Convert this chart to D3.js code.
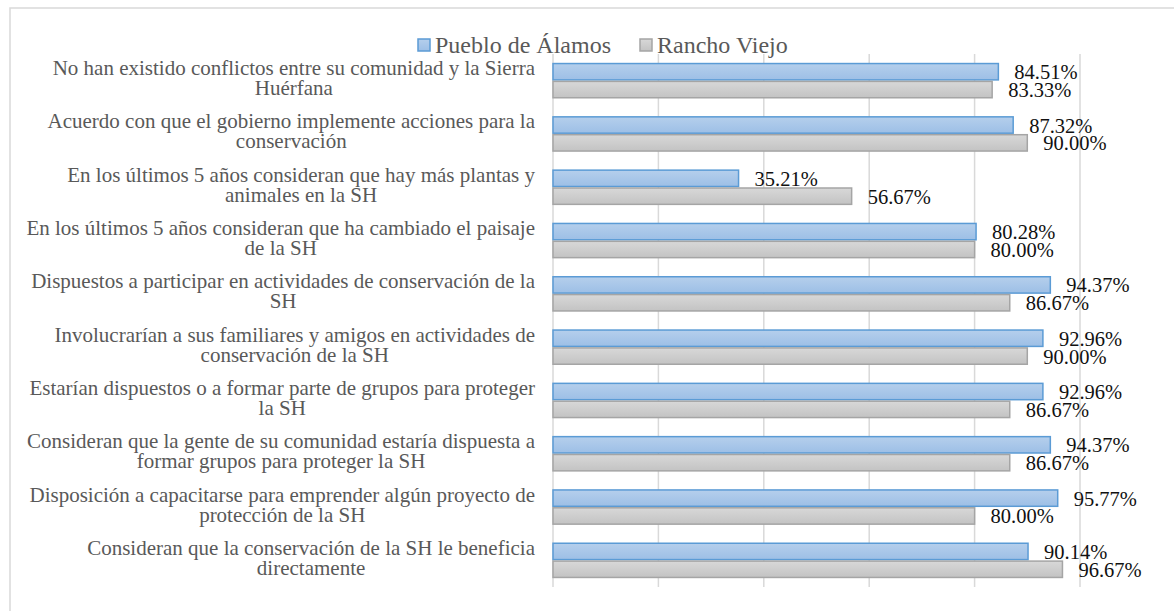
<!DOCTYPE html>
<html>
<head>
<meta charset="UTF-8">
<title>Chart</title>
</head>
<body style="margin:0">
<svg id="chart" width="1174" height="611" style="font-family: 'Liberation Serif', serif"></svg>
<script src="https://cdnjs.cloudflare.com/ajax/libs/d3/7.8.5/d3.min.js"></script>
<script>
  // categorías (saltos de línea como en la figura)
  const categories = [
    "No han existido conflictos entre su comunidad y la Sierra\nHuérfana",
    "Acuerdo con que el gobierno implemente acciones para la\nconservación",
    "En los últimos 5 años consideran que hay más plantas y\nanimales en la SH",
    "En los últimos 5 años consideran que ha cambiado el paisaje\nde la SH",
    "Dispuestos a participar en actividades de conservación de la\nSH",
    "Involucrarían a sus familiares y amigos en actividades de\nconservación de la SH",
    "Estarían dispuestos o a formar parte de grupos para proteger\nla SH",
    "Consideran que la gente de su comunidad estaría dispuesta a\nformar grupos para proteger la SH",
    "Disposición a capacitarse para emprender algún proyecto de\nprotección de la SH",
    "Consideran que la conservación de la SH le beneficia\ndirectamente",
  ];
  const seriesNames = ["Pueblo de Álamos", "Rancho Viejo"];
  const puebloValues = [84.51, 87.32, 35.21, 80.28, 94.37, 92.96, 92.96, 94.37, 95.77, 90.14];
  const ranchoValues = [83.33, 90.0, 56.67, 80.0, 86.67, 90.0, 86.67, 86.67, 80.0, 96.67];
  const xTicks = [0, 20, 40, 60, 80, 100];
</script>
<script>
  const width = 1174,
    height = 611;
  const serif = "'Liberation Serif', serif";

  const svg = d3.select("#chart");

  // degradados de las barras
  const defs = svg.append("defs");
  const grads = [
    { id: "gBlue", top: "#b5cfec", bottom: "#9dbfe6" },
    { id: "gGray", top: "#d8d8d8", bottom: "#c3c3c3" },
  ];
  grads.forEach((g) => {
    const lg = defs.append("linearGradient").attr("id", g.id).attr("x1", 0).attr("y1", 0).attr("x2", 0).attr("y2", 1);
    lg.append("stop").attr("offset", "0%").attr("stop-color", g.top);
    lg.append("stop").attr("offset", "100%").attr("stop-color", g.bottom);
  });
  const fills = ["url(#gBlue)", "url(#gGray)"];
  const strokes = ["#5b9bd5", "#a5a5a5"];

  // borde del área del gráfico
  svg
    .append("rect")
    .attr("x", 10)
    .attr("y", 8)
    .attr("width", width + 20)
    .attr("height", height + 20)
    .attr("fill", "none")
    .attr("stroke", "#d9d9d9")
    .attr("stroke-width", 1.5);

  const x = d3.scaleLinear().domain([0, 100]).range([553, 1080]);

  const y = d3
    .scaleBand()
    .domain(categories)
    .range([54, 587])
    .paddingInner(0.33)
    .paddingOuter(0.165);

  const ySub = d3.scaleBand().domain(seriesNames).range([0, y.bandwidth()]);

  // líneas de cuadrícula
  svg
    .append("g")
    .selectAll("line")
    .data(xTicks)
    .join("line")
    .attr("x1", (d) => x(d))
    .attr("x2", (d) => x(d))
    .attr("y1", 54)
    .attr("y2", 587)
    .attr("stroke", "#d9d9d9")
    .attr("stroke-width", 1.5);

  const rows = categories.map((c, i) => ({
    cat: c,
    vals: [
      { s: seriesNames[0], v: puebloValues[i], k: 0 },
      { s: seriesNames[1], v: ranchoValues[i], k: 1 },
    ],
  }));

  const group = svg
    .append("g")
    .selectAll("g")
    .data(rows)
    .join("g")
    .attr("transform", (d) => `translate(0, ${y(d.cat)})`);

  group
    .selectAll("rect")
    .data((d) => d.vals)
    .join("rect")
    .attr("x", x(0))
    .attr("y", (d) => ySub(d.s) + 0.75)
    .attr("width", (d) => x(d.v) - x(0))
    .attr("height", ySub.bandwidth() - 1.5)
    .attr("fill", (d) => fills[d.k])
    .attr("stroke", (d) => strokes[d.k])
    .attr("stroke-width", 1.5);

  // etiquetas de datos
  group
    .selectAll("text")
    .data((d) => d.vals)
    .join("text")
    .attr("x", (d) => x(d.v) + 16)
    .attr("y", (d) => ySub(d.s) + ySub.bandwidth() / 2 + 7.5)
    .style("font-family", serif)
    .attr("font-size", 20.5)
    .attr("fill", "#111")
    .text((d) => d.v.toFixed(2) + "%");

  // etiquetas de categorías: bloque alineado a la derecha, líneas centradas
  const labelRight = 535;
  const catLabels = svg.append("g").attr("fill", "#595959");
  categories.forEach((c) => {
    const lines = c.split("\n");
    const t = catLabels
      .append("text")
      .attr("text-anchor", "middle")
      .style("font-family", serif)
      .attr("font-size", 21);
    const cy = y(c) + y.bandwidth() / 2;
    lines.forEach((ln, j) => {
      t.append("tspan")
        .attr("y", cy - 5.5 + j * 20)
        .text(ln);
    });
    const tw = d3.max(t.selectAll("tspan").nodes(), (n) => n.getComputedTextLength());
    t.selectAll("tspan").attr("x", labelRight - tw / 2);
  });

  // leyenda
  const legendPos = [418, 640];
  const legend = svg
    .append("g")
    .selectAll("g")
    .data(seriesNames)
    .join("g")
    .attr("transform", (d, i) => `translate(${legendPos[i]}, 39)`);

  legend
    .append("rect")
    .attr("width", 12)
    .attr("height", 12)
    .attr("fill", (d, i) => fills[i])
    .attr("stroke", (d, i) => strokes[i])
    .attr("stroke-width", 1.5);

  legend
    .append("text")
    .attr("x", 17)
    .attr("y", 14)
    .style("font-family", serif)
    .attr("font-size", 24)
    .attr("fill", "#595959")
    .text((d) => d);
</script>
</body>
</html>
